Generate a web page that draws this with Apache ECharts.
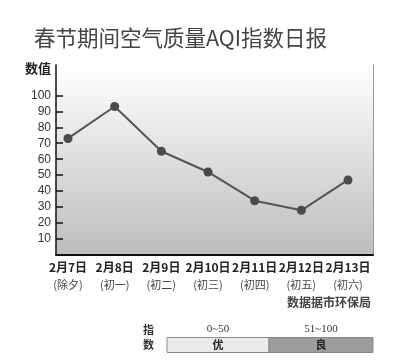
<!DOCTYPE html>
<html><head><meta charset="utf-8">
<script src="https://cdn.jsdelivr.net/npm/echarts@6/dist/echarts.min.js"></script>
<style>html,body{margin:0;padding:0;background:#fff}#c{width:400px;height:364px}</style>
</head><body><div id="c"></div>
<script>
const titleText = '春节期间空气质量AQI指数日报';
const dates = ['2月7日','2月8日','2月9日','2月10日','2月11日','2月12日','2月13日'];
const lunar = ['(除夕)','(初一)','(初二)','(初三)','(初四)','(初五)','(初六)'];
const aqi = [73, 93, 65, 52, 34, 28, 47];
const yTicks = [10,20,30,40,50,60,70,80,90,100];
const yName = '数值';
const source = '数据据市环保局';
const legendRanges = ['0~50','51~100'];
const legendLevels = ['优','良'];
const legendLabel = ['指','数'];

const chart = echarts.init(document.getElementById('c'));
const cjk = '"Noto Sans CJK SC", sans-serif';
chart.setOption({
  animation: false,
  title: {text: titleText, left: 29, top: 22,
    textStyle: {fontFamily: cjk, fontSize: 21.5, fontWeight: 'normal', color: '#444'}},
  grid: [
    {left: 56, right: 27, top: 65, bottom: 109, show: true, borderWidth: 0,
     backgroundColor: new echarts.graphic.LinearGradient(0,0,0,1,[{offset:0,color:'#ffffff'},{offset:1,color:'#bdbdbf'}])},
    {left: 68, right: 52, top: 65, bottom: 109}
  ],
  xAxis: [
    {gridIndex: 0, type: 'category', data: [], axisLine: {lineStyle: {color: '#111', width: 2}},
     axisTick: {show: false}, axisLabel: {show: false}},
    {gridIndex: 1, type: 'category', data: dates, boundaryGap: false,
     axisLine: {show: false}, axisTick: {show: false},
     axisLabel: {margin: 4, interval: 0,
       formatter: (v, i) => '{a|' + v + '}\n{b|' + lunar[i] + '}',
       rich: {a: {fontFamily: cjk, fontWeight: 'bold', fontSize: 12, color: '#222', lineHeight: 17},
              b: {fontFamily: cjk, fontSize: 11, color: '#444', lineHeight: 17}}}}
  ],
  yAxis: [
    {gridIndex: 0, type: 'value', min: 0, max: 119,
     axisLine: {show: true, lineStyle: {color: '#111', width: 1.5}},
     axisTick: {show: true, inside: true, length: 7, lineStyle: {color: '#111', width: 1.5}, customValues: yTicks},
     axisLabel: {margin: 5, customValues: yTicks, fontFamily: 'Liberation Sans, Arial', fontSize: 12, color: '#333'},
     splitLine: {show: false}},
    {gridIndex: 0, type: 'value', min: 0, max: 119, position: 'right',
     axisLine: {show: true, lineStyle: {color: '#999', width: 1}},
     axisTick: {show: false}, axisLabel: {show: false}, splitLine: {show: false}},
    {gridIndex: 1, type: 'value', min: 0, max: 119, show: false, splitLine: {show: false}}
  ],
  series: [{
    type: 'line', xAxisIndex: 1, yAxisIndex: 2, data: aqi,
    symbol: 'circle', symbolSize: 9,
    lineStyle: {color: '#555', width: 2},
    itemStyle: {color: '#4a4a4a'}
  }],
  graphic: [
    {type: 'text', left: 25, top: 62, style: {text: yName, font: 'bold 13px ' + cjk, fill: '#222'}},
    {type: 'text', right: 29, top: 296, style: {text: source, font: 'bold 12px ' + cjk, fill: '#444'}},
    {type: 'text', left: 143, top: 324, style: {text: legendLabel[0], font: 'bold 11px ' + cjk, fill: '#333'}},
    {type: 'text', left: 143, top: 339, style: {text: legendLabel[1], font: 'bold 11px ' + cjk, fill: '#333'}},
    {type: 'rect', shape: {x: 167, y: 337.5, width: 102, height: 15}, style: {fill: '#ebebeb', stroke: '#8a8a8a', lineWidth: 1}},
    {type: 'rect', shape: {x: 269, y: 337.5, width: 104, height: 15}, style: {fill: '#9c9c9c', stroke: '#8a8a8a', lineWidth: 1}},
    {type: 'text', x: 218, y: 329, style: {text: legendRanges[0], font: '11px "Liberation Serif", serif', fill: '#333', align: 'center', verticalAlign: 'middle'}},
    {type: 'text', x: 321, y: 329, style: {text: legendRanges[1], font: '11px "Liberation Serif", serif', fill: '#333', align: 'center', verticalAlign: 'middle'}},
    {type: 'text', x: 218, y: 345, style: {text: legendLevels[0], font: 'bold 11px ' + cjk, fill: '#222', align: 'center', verticalAlign: 'middle'}},
    {type: 'text', x: 321, y: 345, style: {text: legendLevels[1], font: 'bold 11px ' + cjk, fill: '#222', align: 'center', verticalAlign: 'middle'}}
  ]
});
</script></body></html>
